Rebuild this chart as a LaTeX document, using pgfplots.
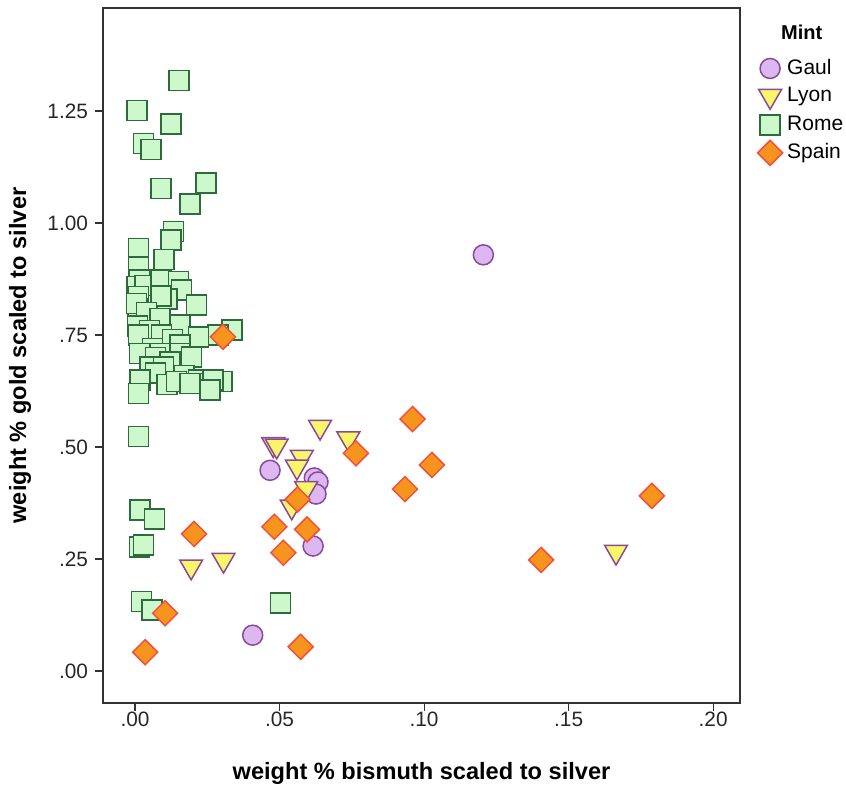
\documentclass[border=0pt]{standalone}
\usepackage{fontspec}
\setmainfont{Liberation Sans}
\usepackage{pgfplots}
\pgfplotsset{compat=1.18}
\definecolor{gaulfill}{HTML}{DDB8F0}
\definecolor{gauledge}{HTML}{8A4A9C}
\definecolor{lyonfill}{HTML}{FAF66A}
\definecolor{romefill}{HTML}{CCF8CC}
\definecolor{romeedge}{HTML}{2E6B3C}
\definecolor{spainfill}{HTML}{F7941E}
\definecolor{spainedge}{HTML}{F2503C}
\definecolor{axisgray}{HTML}{333333}
\begin{document}
\begin{tikzpicture}
\begin{axis}[
  scale only axis,
  width=318.5pt, height=347.5pt,
  xmin=-0.0111, xmax=0.2093,
  ymin=-0.0714, ymax=1.48,
  axis line style={axisgray, line width=0.6pt},
  xtick={0,0.05,0.1,0.15,0.2},
  xticklabels={.00,.05,.10,.15,.20},
  ytick={0,0.25,0.5,0.75,1,1.25},
  yticklabels={.00,.25,.50,.75,1.00,1.25},
  tick align=outside,
  major tick length=4pt,
  tick style={axisgray, line width=0.6pt},
  xtick pos=bottom, ytick pos=left,
  /pgf/number format/assume math mode=true,
  ticklabel style={font=\fontsize{10.4}{12}\selectfont, text=black!85},
  xticklabel style={yshift=3pt},
  xlabel={weight \% bismuth scaled to silver},
  ylabel={weight \% gold scaled to silver},
  label style={font=\bfseries\fontsize{11.8}{14}\selectfont},
  xlabel style={at={(axis description cs:0.5,-0.1007)}, anchor=center},
  ylabel style={at={(axis description cs:-0.130,0.5)}, anchor=center},
  legend style={at={(axis description cs:1.027,0.931)}, anchor=north west,
    draw=none, fill=none, font=\fontsize{10.5}{12}\selectfont,
    row sep=1.9pt, inner sep=0pt, nodes={inner sep=1.5pt},
    /tikz/every odd column/.append style={column sep=0.8pt}},
  legend cell align=left,
  clip=false,
]
% Gaul
\addplot[only marks, mark=*, mark size=5pt,
  mark options={fill=gaulfill, draw=gauledge, line width=0.75pt}]
  coordinates {
  (0.1205,0.929) (0.0467,0.448) (0.0620,0.431) (0.0633,0.422)
  (0.0626,0.395) (0.0616,0.279) (0.0407,0.080)
};
\addlegendentry{Gaul}
% Lyon
\addplot[only marks, mark=triangle*, mark size=6.6pt,
  mark options={rotate=180, fill=lyonfill, draw=gauledge, line width=0.75pt}]
  coordinates {
  (0.0640,0.545) (0.0478,0.506) (0.0490,0.503) (0.0738,0.519)
  (0.0577,0.478) (0.0560,0.456) (0.0592,0.408) (0.0542,0.367)
  (0.0194,0.233) (0.0306,0.248) (0.1664,0.266)
};
\addlegendentry{Lyon}
% Rome
\addplot[only marks, mark=square*, mark size=5pt,
  mark options={fill=romefill, draw=romeedge, line width=0.75pt}]
  coordinates {
  (0.0152,1.318) (0.0006,1.251) (0.0124,1.221) (0.0029,1.178)
  (0.0055,1.164) (0.0246,1.089) (0.0089,1.077) (0.0190,1.042)
  (0.0133,0.981) (0.0124,0.962) (0.0012,0.943) (0.0100,0.919)
  (0.0012,0.902) (0.0015,0.873) (0.0006,0.858) (0.0035,0.860)
  (0.0090,0.873) (0.0150,0.869) (0.0160,0.850) (0.0110,0.830)
  (0.0012,0.836) (0.0090,0.837) (0.0213,0.817) (0.0010,0.809)
  (0.0005,0.820) (0.0040,0.800) (0.0087,0.787) (0.0156,0.772)
  (0.0008,0.770) (0.0050,0.760) (0.0335,0.761) (0.0287,0.750)
  (0.0012,0.750) (0.0220,0.746) (0.0092,0.750) (0.0130,0.740)
  (0.0156,0.728) (0.0060,0.720) (0.0015,0.709) (0.0087,0.709)
  (0.0070,0.700) (0.0156,0.709) (0.0196,0.701) (0.0120,0.690)
  (0.0052,0.679) (0.0098,0.679) (0.0070,0.665) (0.0170,0.660)
  (0.0017,0.650) (0.0110,0.640) (0.0220,0.650) (0.0144,0.646)
  (0.0190,0.642) (0.0260,0.642) (0.0300,0.646) (0.0270,0.650)
  (0.0012,0.620) (0.0260,0.627)
  (0.0012,0.523) (0.0017,0.359) (0.0067,0.339) (0.0015,0.277)
  (0.0029,0.281) (0.0023,0.155) (0.0058,0.136) (0.0504,0.152)
};
\addlegendentry{Rome}
% Spain
\addplot[only marks, mark=square*, mark size=4.42pt,
  mark options={rotate=45, fill=spainfill, draw=spainedge, line width=0.75pt}]
  coordinates {
  (0.0304,0.746) (0.0960,0.5625) (0.1027,0.460) (0.0934,0.406)
  (0.0764,0.486) (0.0562,0.383) (0.0482,0.322) (0.0595,0.316)
  (0.0513,0.264) (0.0204,0.306) (0.0573,0.054) (0.0104,0.129)
  (0.0035,0.042) (0.1788,0.391) (0.1405,0.248)
};
\addlegendentry{Spain}
\node[font=\bfseries\fontsize{10}{12}\selectfont] at (axis description cs:1.097,0.9655) {Mint};
\coordinate (bl) at (rel axis cs:0,0);
\coordinate (tr) at (rel axis cs:1,1);
\end{axis}
\pgfresetboundingbox
\path[use as bounding box] ([xshift=-51.5pt,yshift=-42pt]bl) rectangle ([xshift=53pt,yshift=4pt]tr);
\end{tikzpicture}
\end{document}
